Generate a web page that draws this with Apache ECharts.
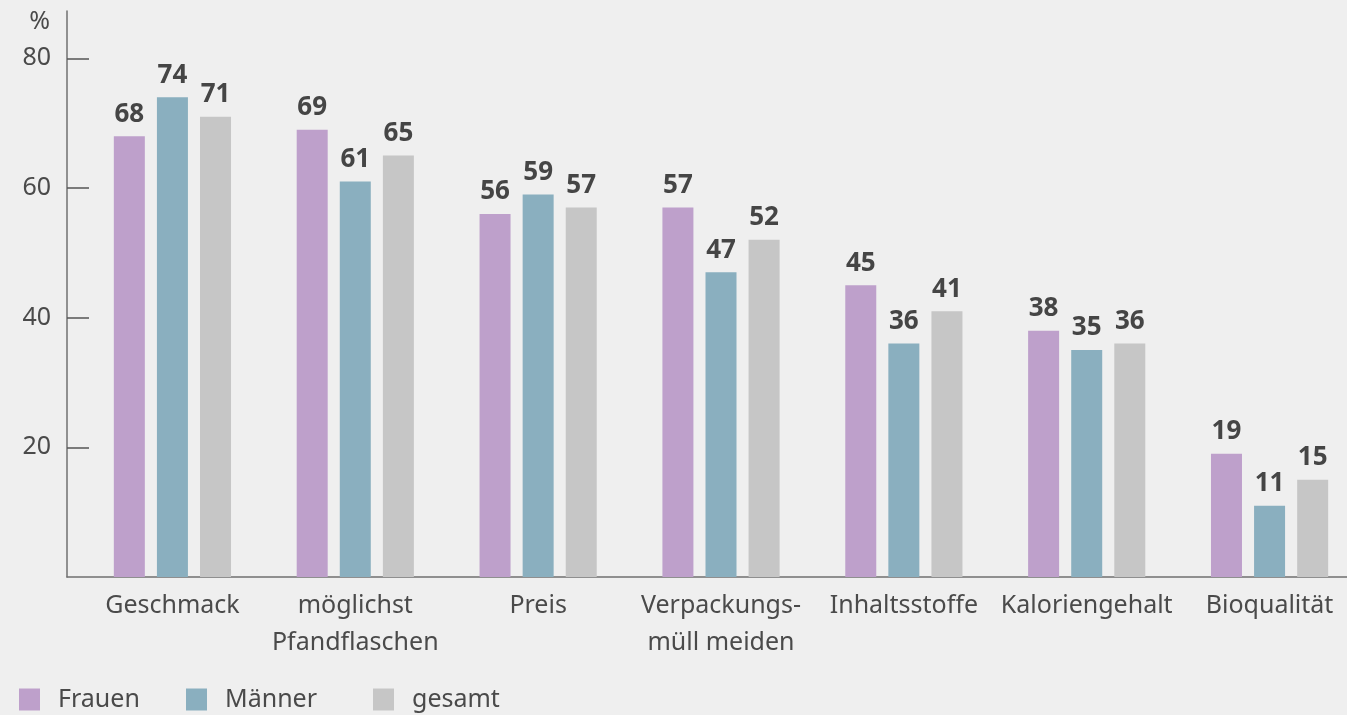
<!DOCTYPE html>
<html>
<head>
<meta charset="utf-8">
<script src="https://cdn.jsdelivr.net/npm/echarts@6/dist/echarts.min.js"></script>
<style>
  html, body { margin: 0; padding: 0; background: #efefef; }
  #myEcharts { width: 1347px; height: 715px; }
</style>
</head>
<body>
<div id="myEcharts"></div>
<script>
// Daten
var categories = ['Geschmack', 'möglichst\nPfandflaschen', 'Preis', 'Verpackungs-\nmüll meiden', 'Inhaltsstoffe', 'Kaloriengehalt', 'Bioqualität'];
var frauen = [68, 69, 56, 57, 45, 38, 19];
var maenner = [74, 61, 59, 47, 36, 35, 11];
var gesamt = [71, 65, 57, 52, 41, 36, 15];
var yTicks = [20, 40, 60, 80];

var textColor = '#4a4a4a';
var font = '"Noto Sans", sans-serif';

function barSeries(name, data, color) {
  return {
    name: name,
    type: 'bar',
    xAxisIndex: 0,
    yAxisIndex: 0,
    data: data,
    barWidth: 31,
    barGap: '39%',
    itemStyle: { color: color },
    label: {
      show: true,
      position: 'top',
      distance: 9,
      fontFamily: font,
      fontSize: 26,
      fontWeight: 'bold',
      color: '#454545'
    }
  };
}

function legendItem(name, color, left) {
  return {
    left: left,
    top: 687,
    padding: 0,
    itemWidth: 21,
    itemHeight: 22,
    itemGap: 0,
    icon: 'rect',
    selectedMode: false,
    data: [{ name: name, itemStyle: { color: color } }],
    textStyle: { fontFamily: font, fontSize: 25, color: textColor, padding: [0, 0, 0, 13] }
  };
}

var options = {
  backgroundColor: '#efefef',
  animation: false,
  legend: [
    legendItem('Frauen', '#bea0cb', 19),
    legendItem('Männer', '#8aafbf', 186),
    legendItem('gesamt', '#c6c6c6', 373)
  ],
  // grid 0: Balken (ragt rechts über den Rand), grid 1: sichtbare Achsen
  grid: [
    { left: 81, width: 1280, top: 11, bottom: 138, outerBoundsMode: 'none' },
    { left: 67, right: 0, top: 11, bottom: 138, outerBoundsMode: 'none' }
  ],
  xAxis: [
    {
      type: 'category',
      gridIndex: 0,
      data: categories,
      axisLine: { show: false },
      axisTick: { show: false },
      axisLabel: {
        interval: 0,
        margin: 10,
        fontFamily: font,
        fontSize: 25,
        lineHeight: 37,
        color: textColor
      }
    },
    {
      type: 'value',
      gridIndex: 1,
      min: 0,
      max: 1,
      axisLine: { show: true, lineStyle: { color: '#707070', width: 1.5 } },
      axisTick: { show: false },
      axisLabel: { show: false },
      splitLine: { show: false }
    }
  ],
  yAxis: [
    {
      type: 'value',
      gridIndex: 0,
      min: 0,
      max: 87.3,
      show: false,
      splitLine: { show: false }
    },
    {
      type: 'value',
      gridIndex: 1,
      min: 0,
      max: 87.3,
      interval: 20,
      name: '%',
      nameLocation: 'end',
      nameGap: -11,
      nameTextStyle: {
        fontFamily: font,
        fontSize: 25,
        color: textColor,
        align: 'right',
        verticalAlign: 'middle',
        padding: [0, 17, 0, 0]
      },
      axisLine: { show: true, lineStyle: { color: '#707070', width: 1.5 } },
      axisTick: {
        show: true,
        inside: true,
        length: 22,
        customValues: yTicks,
        lineStyle: { color: '#555', width: 1.5 }
      },
      axisLabel: {
        margin: 16,
        customValues: yTicks,
        fontFamily: font,
        fontSize: 25,
        color: textColor
      },
      splitLine: { show: false }
    }
  ],
  series: [
    barSeries('Frauen', frauen, '#bea0cb'),
    barSeries('Männer', maenner, '#8aafbf'),
    barSeries('gesamt', gesamt, '#c6c6c6')
  ]
};

var myChart = echarts.init(document.getElementById('myEcharts'));
myChart.setOption(options);
</script>
</body>
</html>
